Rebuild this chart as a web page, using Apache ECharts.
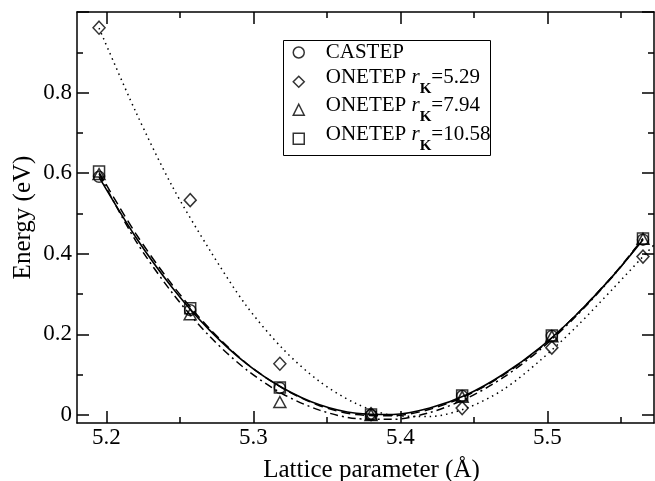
<!DOCTYPE html>
<html>
<head>
<meta charset="utf-8">
<title>Energy vs lattice parameter</title>
<script src="https://cdn.jsdelivr.net/npm/echarts@6/dist/echarts.min.js"></script>
<style>
  html, body { margin: 0; padding: 0; background: #fff; }
  #chart { width: 655px; height: 481px; }
</style>
</head>
<body>
<div id="chart"></div>
<script>
// lattice parameter (Å) of the computed points
const latticeA = [5.195, 5.257, 5.318, 5.380, 5.442, 5.503, 5.565];
// energies (eV)
const castepE = [0.591, 0.260, 0.067, 0.000, 0.047, 0.196, 0.435];
const rk529E  = [0.961, 0.533, 0.127, 0.002, 0.017, 0.167, 0.393];
const rk794E  = [0.598, 0.250, 0.032, 0.000, 0.045, 0.195, 0.437];
const rk1058E = [0.604, 0.265, 0.068, 0.001, 0.048, 0.197, 0.438];

// fitted curves
const fitA = [5.195, 5.22, 5.245, 5.27, 5.295, 5.32, 5.345, 5.37, 5.395, 5.42, 5.445, 5.47, 5.495, 5.52, 5.545, 5.565];
const castepFit = [0.590, 0.441, 0.315, 0.211, 0.128, 0.067, 0.025, 0.004, 0.001, 0.017, 0.050, 0.101, 0.167, 0.250, 0.347, 0.435];
const rk794Fit  = [0.598, 0.432, 0.302, 0.196, 0.113, 0.052, 0.012, -0.009, -0.011, 0.006, 0.041, 0.093, 0.162, 0.247, 0.346, 0.437];
const rk1058Fit = [0.602, 0.450, 0.322, 0.215, 0.129, 0.066, 0.023, 0.001, -0.002, 0.014, 0.048, 0.099, 0.166, 0.250, 0.348, 0.438];
const dotA = [5.195, 5.22, 5.245, 5.27, 5.295, 5.32, 5.345, 5.37, 5.395, 5.42, 5.445, 5.47, 5.495, 5.52, 5.545, 5.565, 5.5725];
const rk529Fit  = [0.960, 0.752, 0.566, 0.411, 0.272, 0.164, 0.083, 0.028, -0.001, -0.004, 0.017, 0.063, 0.135, 0.220, 0.315, 0.393, 0.422];

const xMajor = [5.2, 5.3, 5.4, 5.5];
const xMinor = [5.25, 5.35, 5.45, 5.55];
const yMajor = [0, 0.2, 0.4, 0.6, 0.8, 1.0];
const yLabels = [0, 0.2, 0.4, 0.6, 0.8];
const yMinor = [0.1, 0.3, 0.5, 0.7, 0.9];

const seriesNames = ['CASTEP', 'ONETEP rK=5.29', 'ONETEP rK=7.94', 'ONETEP rK=10.58'];
const legendIcons = ['circle', 'diamond', 'triangle', 'rect'];

const FONT = 'Liberation Serif';
const pairs = (xs, ys) => xs.map((x, i) => [x, ys[i]]);

// one axis per tick set, all stacked on the same grid edge
function axis(position, ticks, len, extra) {
  return Object.assign({
    type: 'value',
    position: position,
    axisLine: { show: false, onZero: false, lineStyle: { color: '#000', width: 1.5 } },
    axisTick: { show: true, inside: true, length: len, customValues: ticks,
                lineStyle: { color: '#000', width: 1.5 } },
    axisLabel: { show: false },
    splitLine: { show: false }
  }, extra);
}

const xRange = { min: 5.18, max: 5.5725 };
const yRange = { min: -0.02, max: 1.0 };

// legend label: "ONETEP r_K=..." with italic r and subscript K
function legendLabel(name) {
  if (name === 'CASTEP') return '{c|CASTEP}';
  return '{a|ONETEP }{i|r}{s|K}{b|' + name.slice(name.indexOf('=')) + '}';
}

const richText = {
  c: { fontFamily: FONT, fontSize: 21, color: '#000', lineHeight: 22, padding: [0, 0, 0, 16.5] },
  a: { fontFamily: FONT, fontSize: 21, color: '#000', lineHeight: 29.5, verticalAlign: 'top', padding: [0, 0, 0, 16.5] },
  i: { fontFamily: FONT, fontSize: 21, color: '#000', fontStyle: 'italic', lineHeight: 22, verticalAlign: 'top' },
  s: { fontFamily: FONT, fontSize: 15, color: '#000', fontWeight: 'bold', lineHeight: 16, verticalAlign: 'bottom' },
  b: { fontFamily: FONT, fontSize: 21, color: '#000', lineHeight: 22, verticalAlign: 'top' }
};

// one legend per row so each row can be placed like the original
const legendTops = [42, 67, 95, 124];
const legends = seriesNames.map((name, k) => ({
  left: 292.5,
  top: legendTops[k],
  padding: 0,
  selectedMode: false,
  itemWidth: 11,
  itemHeight: 11,
  itemStyle: { color: 'rgba(0,0,0,0)', borderColor: '#000', borderWidth: 1.5 },
  data: [{ name: name, icon: legendIcons[k] }],
  formatter: legendLabel,
  textStyle: { color: '#000', fontFamily: FONT, fontSize: 21, rich: richText }
}));

const markStyle = { color: 'rgba(0,0,0,0)', borderColor: '#000', borderWidth: 1.5 };

const chart = echarts.init(document.getElementById('chart'));

chart.setOption({
  animation: false,
  backgroundColor: '#fff',
  grid: { left: 77, right: 1, top: 12, bottom: 58, outerBoundsMode: 'none', containLabel: false },
  xAxis: [
    axis('bottom', xMajor, 12, Object.assign({
      axisLine: { show: true, onZero: false, lineStyle: { color: '#000', width: 1.5 } },
      axisLabel: { show: true, customValues: xMajor, margin: 3, color: '#000',
                   fontFamily: FONT, fontSize: 23 },
      name: 'Lattice parameter (Å)',
      nameLocation: 'middle',
      nameGap: 35,
      nameTextStyle: { color: '#000', fontFamily: FONT, fontSize: 25, padding: [0, 0, 0, 12] }
    }, xRange)),
    axis('bottom', xMinor, 6, xRange),
    axis('top', xMajor, 12, Object.assign({
      axisLine: { show: true, onZero: false, lineStyle: { color: '#000', width: 1.5 } }
    }, xRange)),
    axis('top', xMinor, 6, xRange)
  ],
  yAxis: [
    axis('left', yMajor, 12, Object.assign({
      axisLine: { show: true, onZero: false, lineStyle: { color: '#000', width: 1.5 } },
      axisLabel: { show: true, customValues: yLabels, margin: 5, color: '#000',
                   fontFamily: FONT, fontSize: 23,
                   formatter: v => (v === 0 ? '0' : String(v)) },
      name: 'Energy (eV)',
      nameLocation: 'middle',
      nameGap: 41,
      nameMoveOverlap: false,
      nameTextStyle: { color: '#000', fontFamily: FONT, fontSize: 25 }
    }, yRange)),
    axis('left', yMinor, 6, yRange),
    axis('right', yMajor, 12, Object.assign({
      axisLine: { show: true, onZero: false, lineStyle: { color: '#000', width: 1.5 } }
    }, yRange)),
    axis('right', yMinor, 6, yRange)
  ],
  // frame around the legend rows
  graphic: [{
    type: 'rect', left: 283, top: 40, z: 3,
    shape: { width: 207, height: 115 },
    style: { fill: '#fff', stroke: '#000', lineWidth: 1 }
  }],
  legend: legends,
  series: [
    { name: 'fit CASTEP', type: 'line', data: pairs(fitA, castepFit), smooth: 0.3, symbol: 'none',
      silent: true, z: 2, lineStyle: { color: '#000', width: 1.6, type: 'solid' } },
    { name: 'fit 5.29', type: 'line', data: pairs(dotA, rk529Fit), smooth: 0.3, symbol: 'none',
      silent: true, z: 2, lineStyle: { color: '#000', width: 1.5, type: [1.5, 4] } },
    { name: 'fit 7.94', type: 'line', data: pairs(fitA, rk794Fit), smooth: 0.3, symbol: 'none',
      silent: true, z: 2, lineStyle: { color: '#000', width: 1.5, type: [8, 4, 2, 4] } },
    { name: 'fit 10.58', type: 'line', data: pairs(fitA, rk1058Fit), smooth: 0.3, symbol: 'none',
      silent: true, z: 2, lineStyle: { color: '#000', width: 1.5, type: [9, 5] } },

    { name: seriesNames[0], type: 'scatter', data: pairs(latticeA, castepE), symbol: 'circle',
      symbolSize: 11, z: 5, itemStyle: markStyle },
    { name: seriesNames[1], type: 'scatter', data: pairs(latticeA, rk529E), symbol: 'diamond',
      symbolSize: [12, 13], z: 5, itemStyle: markStyle },
    { name: seriesNames[2], type: 'scatter', data: pairs(latticeA, rk794E), symbol: 'triangle',
      symbolSize: [12, 11], z: 5, itemStyle: markStyle },
    { name: seriesNames[3], type: 'scatter', data: pairs(latticeA, rk1058E), symbol: 'rect',
      symbolSize: 11, z: 5, itemStyle: markStyle }
  ]
});
</script>
</body>
</html>
